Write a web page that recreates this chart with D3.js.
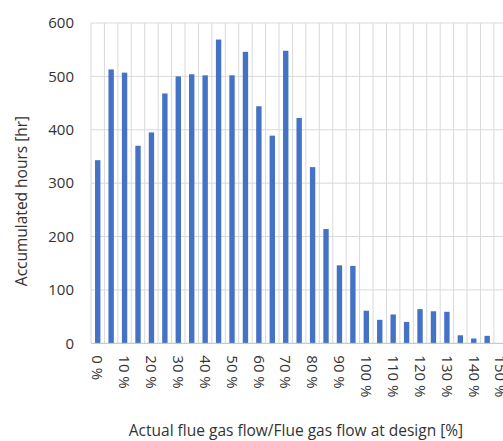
<!DOCTYPE html>
<html>
<head>
<meta charset="utf-8">
<script src="https://cdn.jsdelivr.net/npm/d3@7"></script>
<style>
  html, body { margin: 0; padding: 0; background: #fff; }
  svg { display: block; }
  text { font-family: "Open Sans", "Liberation Sans", sans-serif; fill: #333; }
</style>
</head>
<body>
<div id="chart"></div>
<script>
// Flow ratio bins (% of design flue gas flow)
const flowBins = [0, 5, 10, 15, 20, 25, 30, 35, 40, 45, 50, 55, 60, 65, 70, 75,
                  80, 85, 90, 95, 100, 105, 110, 115, 120, 125, 130, 135, 140, 145, 150];
// Accumulated operating hours per bin
const hours = [343, 513, 507, 370, 395, 468, 500, 504, 502, 569, 502, 546, 444, 389, 548, 422,
               330, 214, 146, 145, 61, 44, 54, 40, 64, 60, 59, 15, 9, 14, 0];
// Labelled bins on the category axis
const xTickBins = [0, 10, 20, 30, 40, 50, 60, 70, 80, 90, 100, 110, 120, 130, 140, 150];
const yTicks = [0, 100, 200, 300, 400, 500, 600];

const W = 503, H = 441;
const margin = { left: 91, top: 23 };
const bandW = 13.43;
const plotW = bandW * flowBins.length;
const plotH = 320.3;

const svg = d3.select("#chart").append("svg")
  .attr("width", W).attr("height", H);

const x = d3.scaleBand()
  .domain(flowBins)
  .range([margin.left, margin.left + plotW])
  .paddingInner(0.6).paddingOuter(0.3);

const y = d3.scaleLinear()
  .domain([0, 600])
  .range([margin.top + plotH, margin.top]);

// Horizontal gridlines
svg.append("g").selectAll("line")
  .data(yTicks.filter(d => d > 0))
  .join("line")
  .attr("x1", margin.left).attr("x2", margin.left + plotW)
  .attr("y1", d => y(d)).attr("y2", d => y(d))
  .attr("stroke", "#d9d9d9").attr("stroke-width", 1);

// Vertical gridlines between categories
const step = x.step();
const boundaries = flowBins.map((d, i) => i);
boundaries.push(flowBins.length);
svg.append("g").selectAll("line")
  .data(boundaries)
  .join("line")
  .attr("x1", i => margin.left + i * step).attr("x2", i => margin.left + i * step)
  .attr("y1", margin.top).attr("y2", margin.top + plotH)
  .attr("stroke", "#d9d9d9").attr("stroke-width", 1);

// Bars
svg.append("g").selectAll("rect")
  .data(flowBins.map((b, i) => ({ bin: b, value: hours[i] })))
  .join("rect")
  .attr("x", d => x(d.bin))
  .attr("width", x.bandwidth())
  .attr("y", d => y(d.value))
  .attr("height", d => y(0) - y(d.value))
  .attr("fill", "#4472c4");

// Category axis line
svg.append("line")
  .attr("x1", margin.left).attr("x2", margin.left + plotW)
  .attr("y1", y(0)).attr("y2", y(0))
  .attr("stroke", "#bfbfbf").attr("stroke-width", 1);

// Value axis labels
const yAxis = d3.axisLeft(y).tickValues(yTicks).tickSize(0).tickPadding(0);
const yg = svg.append("g")
  .attr("transform", `translate(${margin.left - 17},0)`)
  .call(yAxis);
yg.select(".domain").remove();
yg.selectAll("text").style("font-size", "15px").attr("fill", "#333")
  .style("font-family", "'Open Sans', sans-serif");

// Category labels, rotated to read top-to-bottom
const xAxis = d3.axisBottom(x).tickValues(xTickBins).tickFormat(d => d + " %").tickSize(0);
const xg = svg.append("g")
  .attr("transform", `translate(0,${y(0)})`)
  .call(xAxis);
xg.select(".domain").remove();
xg.selectAll("text")
  .style("font-size", "15px").attr("fill", "#333")
  .style("font-family", "'Open Sans', sans-serif")
  .attr("transform", "rotate(90)")
  .attr("x", 12).attr("y", 0).attr("dy", "0.35em")
  .attr("text-anchor", "start");

// Axis titles
svg.append("text")
  .attr("x", 296).attr("y", 436)
  .attr("text-anchor", "middle")
  .style("font-size", "15.5px")
  .text("Actual flue gas flow/Flue gas flow at design [%]");

svg.append("text")
  .attr("transform", "translate(27,201) rotate(-90)")
  .attr("text-anchor", "middle")
  .style("font-size", "15.5px")
  .text("Accumulated hours [hr]");
</script>
</body>
</html>
